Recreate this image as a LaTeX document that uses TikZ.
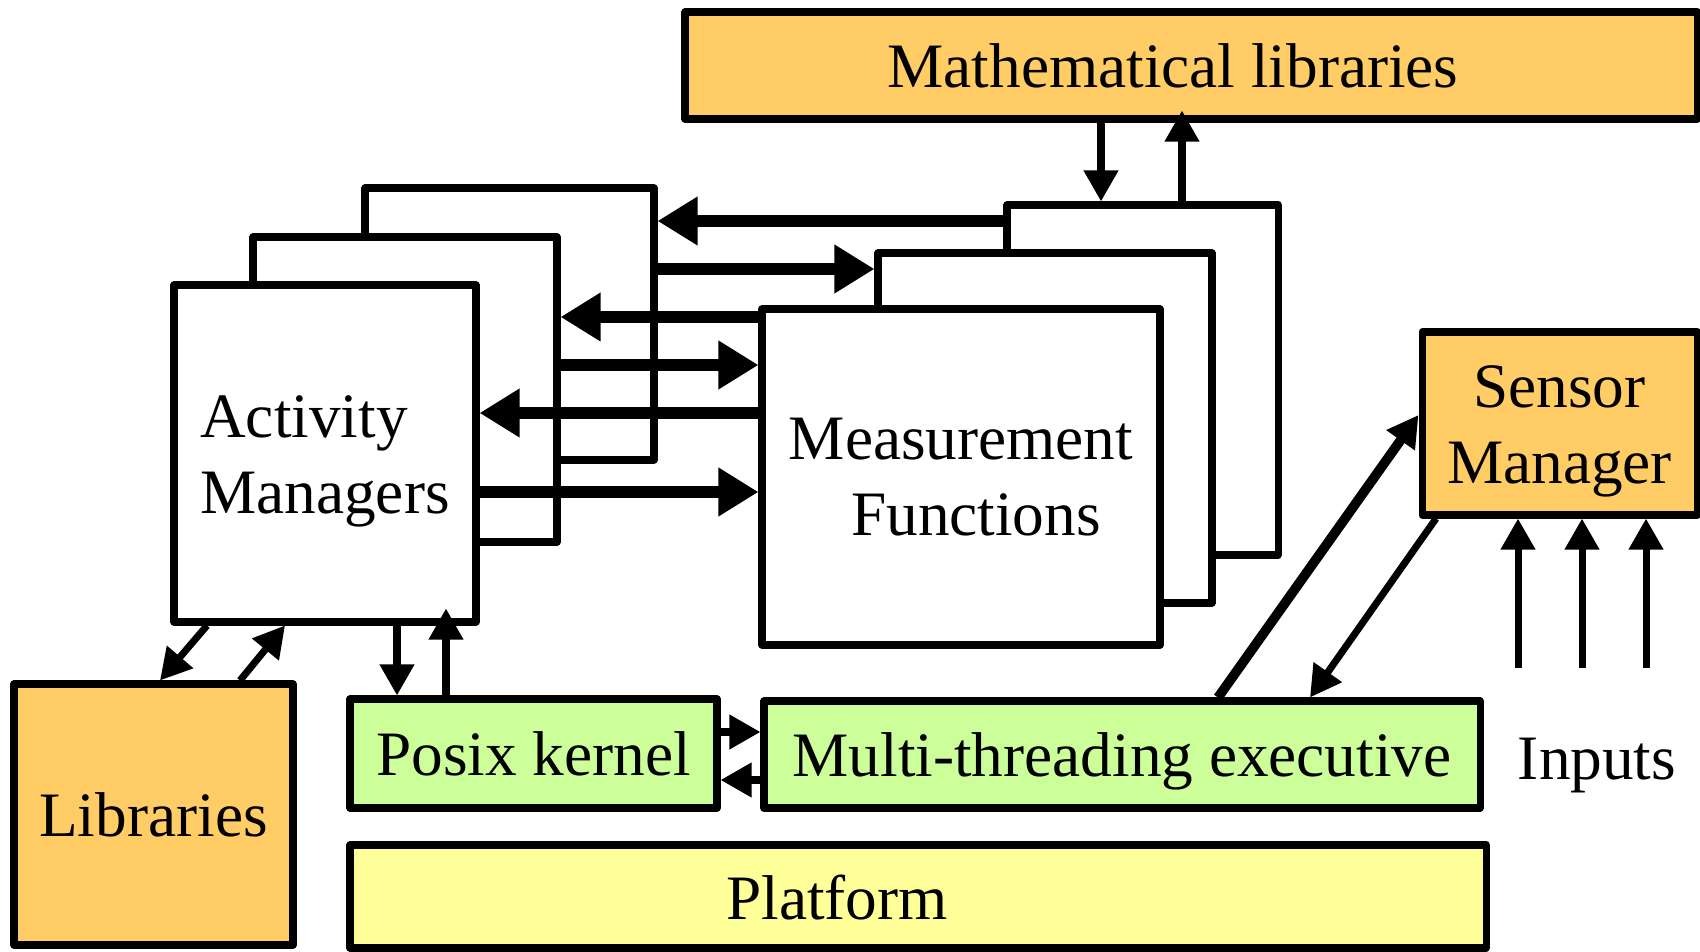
\documentclass[tikz,border=0pt]{standalone}
\usepackage{fontspec}
\setmainfont{Liberation Serif}
\usepackage{xcolor}
\usepackage{tikz}
\usetikzlibrary{arrows.meta}

\definecolor{liborange}{RGB}{255,204,102}
\definecolor{kernelgreen}{RGB}{204,255,153}
\definecolor{platyellow}{RGB}{255,255,153}

\begin{document}
\begin{tikzpicture}[
    txt/.style={font=\fontsize{36}{43}\selectfont},
    box/.style={txt, draw, line width=4pt, line join=round, inner sep=0pt, align=center},
    oneline/.style={text height=0.88cm, text depth=0pt},
    bigarrow/.style={-{Triangle[length=8mm, width=9.2mm]}, line width=6.5pt},
    midarrow/.style={-{Triangle[length=6.2mm, width=6.6mm]}, line width=5.5pt},
    smallarrow/.style={-{Triangle[length=6.2mm, width=6.6mm]}, line width=4pt}
]
\useasboundingbox (0,0) rectangle (34,19.02);
% ACTIVITY MANAGERS: three stacked copies
\node[box, fill=white, minimum width=5.78cm, minimum height=5.44cm] (bAM) at (10.19,12.54) {};
\node[box, fill=white, minimum width=6.08cm, minimum height=6.10cm] (mAM) at (8.10,11.23) {};
\node[box, fill=white, minimum width=6.04cm, minimum height=6.74cm, align=left] (fAM) at (6.50,9.95) {\rule{0pt}{1.16cm}Activity\\Managers};
% MEASUREMENT FUNCTIONS: three stacked copies
\node[box, fill=white, minimum width=5.42cm, minimum height=7.00cm] (bMF) at (22.85,11.42) {};
\node[box, fill=white, minimum width=6.68cm, minimum height=7.00cm] (mMF) at (20.90,10.46) {};
\node[box, fill=white, minimum width=7.96cm, minimum height=6.72cm] (fMF) at (19.22,9.48) {Measurement\\\hspace*{0.6cm}Functions};
% LIBRARIES, KERNEL, PLATFORM
\node[box, oneline, fill=liborange, minimum width=20.24cm, minimum height=2.14cm] (mathlib) at (23.82,17.71) {Mathematical libraries\hspace*{0.72cm}};
\node[box, oneline, fill=liborange, minimum width=5.58cm, minimum height=5.22cm] (lib) at (3.07,2.73) {Libraries};
\node[box, oneline, fill=kernelgreen, minimum width=7.34cm, minimum height=2.18cm] (posix) at (10.67,3.95) {Posix kernel};
\node[box, oneline, fill=kernelgreen, minimum width=14.32cm, minimum height=2.14cm] (multi) at (22.44,3.93) {Multi-threading executive};
\node[box, fill=platyellow, minimum width=22.72cm, minimum height=2.06cm] (plat) at (18.36,1.09) {};
\node[txt, anchor=base] (platlbl) at (16.74,0.62) {Platform};
% SENSOR SIDE
\node[box, fill=liborange, minimum width=5.50cm, minimum height=3.66cm] (sensor) at (31.19,10.55) {\rule{0pt}{1.16cm}Sensor\\Manager};
\node[txt, anchor=base] (inlbl) at (31.94,3.42) {Inputs};

% Managers <-> Functions
\draw[bigarrow] (bMF.west |- 0,14.60) -- (bAM.east |- 0,14.60);
\draw[bigarrow] (bAM.east |- 0,13.64) -- (mMF.west |- 0,13.64);
\draw[bigarrow] (fMF.west |- 0,12.68) -- (mAM.east |- 0,12.68);
\draw[bigarrow] (mAM.east |- 0,11.72) -- (fMF.west |- 0,11.72);
\draw[bigarrow] (fMF.west |- 0,10.76) -- (fAM.east |- 0,10.76);
\draw[bigarrow] (fAM.east |- 0,9.18) -- (fMF.west |- 0,9.18);
% Functions <-> Mathematical libraries
\draw[smallarrow] (mathlib.south -| 22.02,0) -- (bMF.north -| 22.02,0);
\draw[smallarrow, shorten >=-0.24cm] (bMF.north -| 23.64,0) -- (mathlib.south -| 23.64,0);
% Managers <-> Libraries and Posix kernel
\draw[smallarrow] (fAM.south -| 4.14,0) -- (lib.north -| 3.20,0);
\draw[smallarrow] (lib.north -| 4.80,0) -- (fAM.south -| 5.70,0);
\draw[smallarrow] (fAM.south -| 7.94,0) -- (posix.north -| 7.94,0);
\draw[smallarrow, shorten >=-0.34cm] (posix.north -| 8.92,0) -- (fAM.south -| 8.92,0);
% Posix kernel <-> executive
\draw[smallarrow] (posix.east |- 0,4.38) -- (multi.west |- 0,4.38);
\draw[smallarrow] (multi.west |- 0,3.42) -- (posix.east |- 0,3.42);
% executive <-> Sensor Manager
\draw[midarrow] (multi.north -| 24.36,0) -- (sensor.west |- 0,10.72);
\draw[smallarrow] (sensor.south -| 28.72,0) -- (multi.north -| 26.20,0);
% inputs
\foreach \x [count=\i] in {30.36,31.64,32.92} {
    \coordinate (in\i) at (\x,5.66);
    \draw[smallarrow] (in\i) -- (sensor.south -| in\i);
}
\end{tikzpicture}
\end{document}
